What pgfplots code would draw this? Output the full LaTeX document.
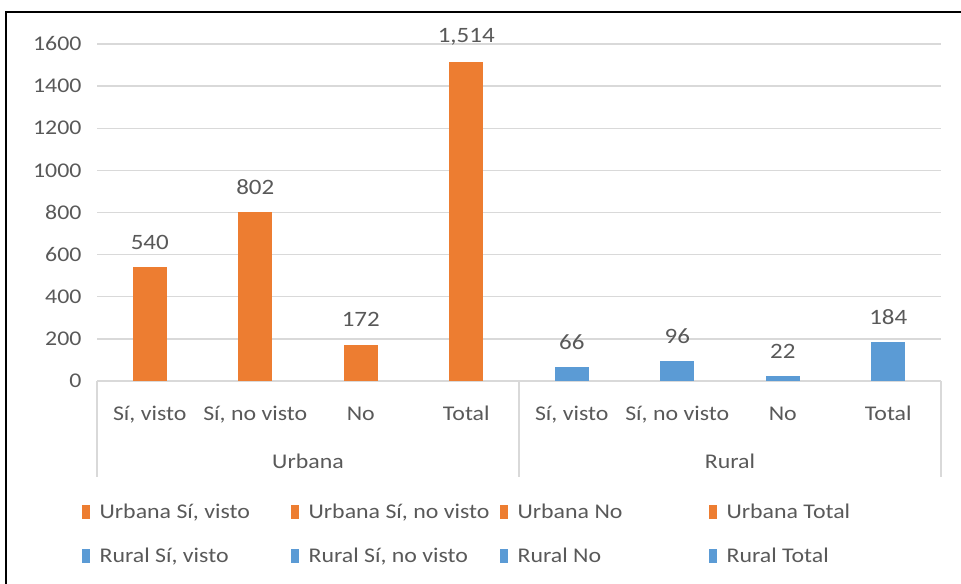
\documentclass[border=0pt]{standalone}
\usepackage{pgfplots}
\pgfplotsset{compat=1.18}
\usepackage{fontspec}
\setmainfont{Carlito}[FakeStretch=1.14]
\definecolor{orng}{HTML}{ED7D31}
\definecolor{blu}{HTML}{5B9BD5}
\definecolor{txt}{HTML}{595959}
\definecolor{grd}{HTML}{D9D9D9}
\newcommand{\fs}{\fontsize{21}{24}\selectfont}

\begin{document}
\begin{tikzpicture}[x=1bp,y=1bp]
\path[use as bounding box] (0,0) rectangle (961,584);
\begin{axis}[
    at={(97bp,203bp)}, anchor=south west,
    scale only axis, width=844bp, height=337bp,
    xmin=-0.5, xmax=7.5, ymin=0, ymax=1600,
    ybar, bar width=34bp, bar shift=0pt,
    every axis plot post/.append style={
        legend image code/.code={\fill[##1] (0bp,-7bp) rectangle (8bp,7bp);
            \path (16bp,0bp);}},
    clip=false,
    axis x line=bottom, axis y line=left,
    x axis line style={draw=grd, line width=1.3bp, -},
    y axis line style={draw=none},
    major tick length=0pt,
    ytick={0,200,...,1600},
    ymajorgrids, grid style={draw=grd, line width=1.3bp},
    /pgf/number format/assume math mode=true,
    /pgf/number format/1000 sep={},
    yticklabel style={font=\fs, text=txt, xshift=-12bp},
    xtick={0,...,7},
    xticklabels={{Sí, visto},{Sí, no visto},No,Total,{Sí, visto},{Sí, no visto},No,Total},
    xticklabel style={font=\fs, text=txt, anchor=center, yshift=-35bp,
        text height=14bp, text depth=4bp},
    nodes near coords={\pgfmathprintnumber[assume math mode=true,1000 sep={,}]{\pgfplotspointmeta}},
    every node near coord/.append style={font=\fontsize{22}{24}\selectfont, text=txt,
        anchor=center, yshift=25bp},
    legend columns=4,
    legend cell align=left,
    legend style={at={(-0.022,-0.352)}, anchor=north west, draw=none, fill=none,
        font=\fs, text=txt, row sep=24bp},
]
\addplot[fill=orng, draw=none] coordinates {(0,540)};
\addlegendentry{\makebox[189bp][l]{Urbana Sí, visto}}
\addplot[fill=orng, draw=none] coordinates {(1,802)};
\addlegendentry{\makebox[189bp][l]{Urbana Sí, no visto}}
\addplot[fill=orng, draw=none] coordinates {(2,172)};
\addlegendentry{\makebox[189bp][l]{Urbana No}}
\addplot[fill=orng, draw=none] coordinates {(3,1514)};
\addlegendentry{\makebox[189bp][l]{Urbana Total}}
\addplot[fill=blu, draw=none] coordinates {(4,66)};
\addlegendentry{\makebox[189bp][l]{Rural Sí, visto}}
\addplot[fill=blu, draw=none] coordinates {(5,96)};
\addlegendentry{\makebox[189bp][l]{Rural Sí, no visto}}
\addplot[fill=blu, draw=none] coordinates {(6,22)};
\addlegendentry{\makebox[189bp][l]{Rural No}}
\addplot[fill=blu, draw=none] coordinates {(7,184)};
\addlegendentry{\makebox[189bp][l]{Rural Total}}
% group separators and labels
\draw[grd, line width=1.3bp] (axis cs:-0.5,0) -- ++(0bp,-96bp);
\draw[grd, line width=1.3bp] (axis cs:3.5,0) -- ++(0bp,-96bp);
\draw[grd, line width=1.3bp] (axis cs:7.5,0) -- ++(0bp,-96bp);
\node[font=\fs, text=txt] at ([yshift=-80bp]axis cs:1.5,0) {Urbana};
\node[font=\fs, text=txt] at ([yshift=-80bp]axis cs:5.5,0) {Rural};
\end{axis}
\draw[line width=2bp] (6,0) -- (6,572) -- (961,572);
\end{tikzpicture}
\end{document}
